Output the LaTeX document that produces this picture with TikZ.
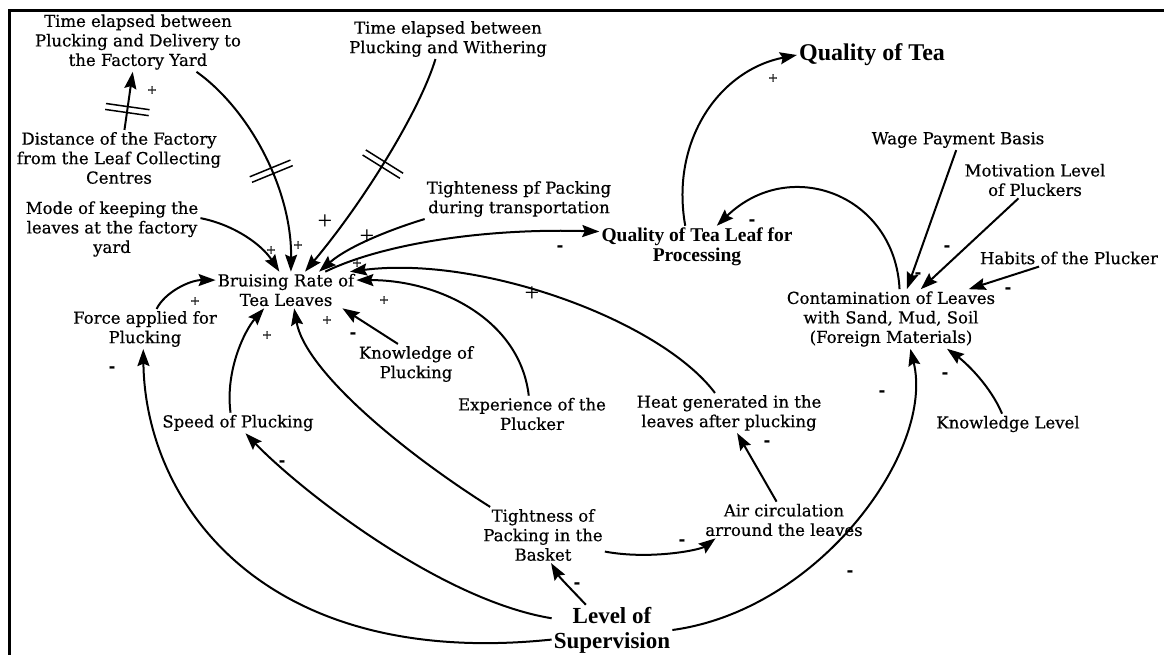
\documentclass[tikz,border=0pt]{standalone}
\usepackage{fontspec}
\setmainfont{DejaVu Serif}[FakeBold=0.6]
\newfontfamily\timesfont{Liberation Serif}
\usetikzlibrary{arrows.meta,decorations.markings}

\begin{document}
\begin{tikzpicture}[x=1pt,y=-1pt,
  lbl/.style={align=center,inner sep=2pt,font=\fontsize{16.5}{19.5}\selectfont},
  key/.style={align=center,inner sep=2pt,font=\timesfont\bfseries\fontsize{19.5}{20}\selectfont},
  arr/.style={line width=2pt,-{Stealth[length=17pt,width=12pt,inset=2.5pt]}},
  pl/.style={inner sep=0pt,font=\fontsize{12}{12}\selectfont},
  bigpl/.style={inner sep=0pt,font=\timesfont\fontsize{26}{26}\selectfont},
  mi/.style={inner sep=0pt,font=\bfseries\fontsize{15}{15}\selectfont},
  delay/.style={postaction={decorate},decoration={markings,
    mark=at position #1 with {\draw[line width=1.5pt,-] (-3pt,-22pt) -- (-3pt,22pt) (3pt,-22pt) -- (3pt,22pt);}}},
]
\useasboundingbox (0,0) rectangle (1164,655);

% frame (top and left rules)
\draw[line width=3pt] (1164,11) -- (9,11) -- (9,655);

% variables
\node[lbl] (tdel) at (138,42) {Time elapsed between\\Plucking and Delivery to\\the Factory Yard};
\node[lbl] (twith) at (448,39) {Time elapsed between\\Plucking and Withering};
\node[lbl] (dist) at (119,158) {Distance of the Factory\\from the Leaf Collecting\\Centres};
\node[lbl] (mode) at (112,229) {Mode of keeping the\\leaves at the factory\\yard};
\node[lbl] (tight) at (519,199) {Tighteness pf Packing\\during transportation};
\node[key] (qleaf) at (697,247) {Quality of Tea Leaf for\\Processing};
\node[key,font=\timesfont\bfseries\fontsize{24}{26}\selectfont] (qtea) at (872,55) {Quality of Tea};
\node[lbl] (wage) at (958,140) {Wage Payment Basis};
\node[lbl] (motiv) at (1035,180) {Motivation Level\\of Pluckers};
\node[lbl] (habits) at (1069,258) {Habits of the Plucker};
\node[lbl] (contam) at (891,319) {Contamination of Leaves\\with Sand, Mud, Soil\\(Foreign Materials)};
\node[lbl] (bruise) at (286,290) {Bruising Rate of\\Tea Leaves};
\node[lbl] (force) at (145,329) {Force applied for\\Plucking};
\node[lbl] (knowof) at (416,364) {Knowledge of\\Plucking};
\node[lbl] (exper) at (532,414) {Experience of the\\Plucker};
\node[lbl] (heat) at (729,413) {Heat generated in the\\leaves after plucking};
\node[lbl] (knowlev) at (1008,424) {Knowledge Level};
\node[lbl] (speed) at (238,423) {Speed of Plucking};
\node[lbl] (air) at (784,520) {Air circulation\\arround the leaves};
\node[lbl] (basket) at (543,535) {Tightness of\\Packing in the\\Basket};
\node[key,font=\timesfont\bfseries\fontsize{23}{25}\selectfont] (superv) at (612,630) {Level of\\Supervision};

% causal links
\draw[arr,delay=0.35] (dist.79) -- (tdel.-100);
\draw[arr,delay=0.55] (tdel.-27) .. controls (250,110) and (292,190) .. (bruise.75);
\draw[arr,delay=0.47] (twith.-122) .. controls (420,110) and (365,200) .. (bruise.44);
\draw[arr] (mode.7) .. controls (235,225) and (262,245) .. (bruise.110);
\draw[arr] (tight.-168) .. controls (395,228) and (350,245) .. (bruise.29);
\draw[arr] (bruise.25) .. controls (380,245) and (480,228) .. (qleaf.171);
\draw[arr] (force.60) .. controls (165,292) and (190,280) .. (bruise.172);
\draw[arr] (speed.126) .. controls (225,370) and (245,330) .. (bruise.-140);
\draw[arr] (basket.152) .. controls (400,450) and (305,370) .. (bruise.-66);
\draw[arr] (knowof.132) -- (bruise.-18);
\draw[arr] (exper.100) .. controls (520,320) and (440,280) .. (bruise.8);
\draw[arr] (heat.125) .. controls (660,320) and (480,255) .. (bruise.16);
\draw[arr] (qleaf.119) .. controls (670,140) and (720,70) .. (qtea.180);
\draw[arr] (contam.74) .. controls (895,195) and (790,155) .. (qleaf.47);
\draw[arr] (wage.-100) -- (contam.62);
\draw[arr] (motiv.-132) -- (contam.45);
\draw[arr] (habits.-164) -- (contam.21);
\draw[arr] (knowlev.120) .. controls (990,385) and (965,362) .. (contam.-28);
\draw[arr] (superv.0) .. controls (820,610) and (935,450) .. (contam.-57);
\draw[arr] (superv.-171) .. controls (260,670) and (145,500) .. (force.-95);
\draw[arr] (superv.169) .. controls (440,600) and (300,490) .. (speed.-54);
\draw[arr] (superv.136) .. controls (572,590) and (560,578) .. (basket.-74);
\draw[arr] (basket.-15) .. controls (650,560) and (700,550) .. (air.-165);
\draw[arr] (air.112) -- (heat.-68);

% polarity signs
\node[pl] (p1) at (152,90) {+};
\node[pl] (p2) at (298,245) {+};
\node[bigpl] (p3) at (325,222) {+};
\node[pl] (p4) at (271,250) {+};
\node[bigpl] (p5) at (367,237) {+};
\node[mi] (m1) at (560,248) {-};
\node[pl] (p6) at (773,78) {+};
\node[mi] (m2) at (752,222) {-};
\node[mi] (m3) at (918,275) {-};
\node[mi] (m4) at (947,248) {-};
\node[mi] (m5) at (1008,290) {-};
\node[mi] (m6) at (945,375) {-};
\node[mi] (m7) at (882,393) {-};
\node[mi] (m8) at (850,573) {-};
\node[pl] (p7) at (195,301) {+};
\node[pl] (p8) at (267,335) {+};
\node[pl] (p9) at (327,320) {+};
\node[mi] (m9) at (353,335) {-};
\node[pl] (p10) at (384,300) {+};
\node[pl] (p11) at (357,263) {+};
\node[bigpl] (p12) at (532,294) {+};
\node[mi] (m10) at (112,369) {-};
\node[mi] (m11) at (282,463) {-};
\node[mi] (m12) at (577,585) {-};
\node[mi] (m13) at (682,542) {-};
\node[mi] (m14) at (767,443) {-};
\end{tikzpicture}
\end{document}
